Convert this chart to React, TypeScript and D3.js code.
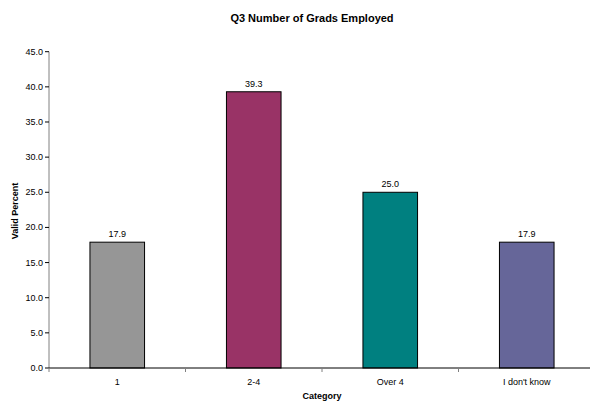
import React from "react";
import * as d3 from "d3";

const categories = ["1", "2-4", "Over 4", "I don't know"];
const values = [17.9, 39.3, 25.0, 17.9];
const barColors = ["#969696", "#993366", "#008080", "#666699"];
const yTicks = [0, 5, 10, 15, 20, 25, 30, 35, 40, 45];

const W = 590;
const H = 402;
const left = 49;
const right = 595;
const top = 51.7;
const bottom = 368;

export default function App() {
  const x = d3.scaleBand<string>().domain(categories).range([left, right]).paddingInner(0).paddingOuter(0);
  const y = d3.scaleLinear().domain([0, 45]).range([bottom, top]);
  const bw = x.bandwidth() * 0.4;
  const font = "Arial, 'Liberation Sans', sans-serif";
  const boundaries = [...categories.map((c) => x(c) as number), right];

  return (
    <svg width={W} height={H} style={{ position: "absolute", left: 0, top: 0, background: "#fff" }} fontFamily={font}>
      <text x={312} y={22} textAnchor="middle" fontSize={11} fontWeight="bold" fill="#000">
        Q3 Number of Grads Employed
      </text>
      {categories.map((c, i) => {
        const cx = (x(c) as number) + x.bandwidth() / 2;
        return (
          <g key={c}>
            <rect
              x={cx - bw / 2}
              y={y(values[i])}
              width={bw}
              height={bottom - y(values[i])}
              fill={barColors[i]}
              stroke="#000"
              strokeWidth={1}
            />
            <text x={cx} y={y(values[i]) - 5} textAnchor="middle" fontSize={9} fill="#000">
              {values[i].toFixed(1)}
            </text>
            <text x={cx} y={385} textAnchor="middle" fontSize={9} fill="#000">
              {c}
            </text>
          </g>
        );
      })}
      {/* value axis */}
      <line x1={left} x2={left} y1={top} y2={bottom} stroke="#808080" strokeWidth={1} />
      {yTicks.map((t) => (
        <g key={t}>
          <line x1={left - 4} x2={left} y1={y(t)} y2={y(t)} stroke="#000" />
          <text x={left - 6} y={y(t) + 3} textAnchor="end" fontSize={9} fill="#000">
            {t.toFixed(1)}
          </text>
        </g>
      ))}
      {/* category axis */}
      <line x1={left} x2={right} y1={bottom} y2={bottom} stroke="#000" strokeWidth={1} />
      {boundaries.map((b, i) => (
        <line key={i} x1={b} x2={b} y1={bottom} y2={bottom + 4} stroke="#808080" />
      ))}
      <text
        transform={`translate(18,211) rotate(-90)`}
        textAnchor="middle"
        fontSize={9}
        fontWeight="bold"
        fill="#000"
      >
        Valid Percent
      </text>
      <text x={322} y={399} textAnchor="middle" fontSize={9} fontWeight="bold" fill="#000">
        Category
      </text>
    </svg>
  );
}
